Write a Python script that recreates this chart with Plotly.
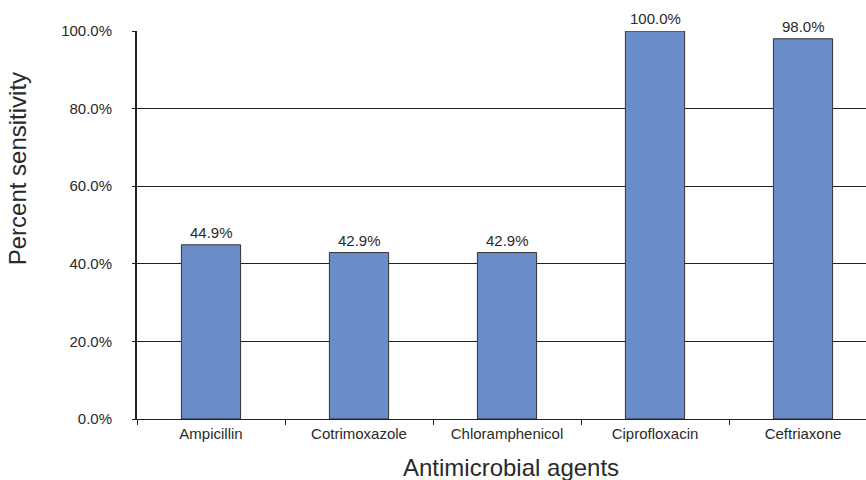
import plotly.graph_objects as go

categories = ["Ampicillin", "Cotrimoxazole", "Chloramphenicol", "Ciprofloxacin", "Ceftriaxone"]
sensitivity = [44.9, 42.9, 42.9, 100.0, 98.0]
y_ticks = [0, 20, 40, 60, 80, 100]
y_tick_labels = ["0.0%", "20.0%", "40.0%", "60.0%", "80.0%", "100.0%"]

font_family = "Liberation Sans, Arial, sans-serif"
ink = "#222222"
text_ink = "#2a2a2a"

fig = go.Figure()
fig.add_trace(go.Bar(
    x=categories, y=sensitivity, width=0.4,
    marker=dict(color="#6A8CC7", line=dict(color="#333333", width=1)),
    showlegend=False, hoverinfo="skip",
))

for c, v in zip(categories, sensitivity):
    fig.add_annotation(x=c, y=v, xref="x", yref="y", text=f"{v:.1f}%",
                       showarrow=False, yanchor="bottom", yshift=2,
                       bgcolor="white", borderpad=1,
                       font=dict(family=font_family, size=15, color=text_ink))

# axis titles as annotations (paper coords)
fig.add_annotation(x=0.5137, y=-0.126, xref="paper", yref="paper", text="Antimicrobial agents",
                   showarrow=False, xanchor="center", yanchor="middle",
                   font=dict(family=font_family, size=24, color=text_ink))
fig.add_annotation(x=-0.1635, y=0.6456, xref="paper", yref="paper", text="Percent sensitivity",
                   showarrow=False, xanchor="center", yanchor="middle", textangle=-90,
                   font=dict(family=font_family, size=24, color=text_ink))

fig.update_layout(
    width=866, height=480,
    margin=dict(l=137, r=0, t=31, b=61),
    paper_bgcolor="white", plot_bgcolor="white",
    font=dict(family=font_family, color=text_ink),
    xaxis=dict(
        type="category", range=[-0.5, 4.5 - 11 / 148],
        tickson="boundaries", ticks="outside", ticklen=5, tickcolor=ink,
        showline=True, linecolor=ink, linewidth=1,
        showgrid=False, tickfont=dict(size=15, color=text_ink),
        ticklabelstandoff=1,
    ),
    yaxis=dict(
        range=[0, 100], tickmode="array", tickvals=y_ticks, ticktext=y_tick_labels,
        ticks="outside", ticklen=3, tickcolor=ink,
        showline=True, linecolor=ink, linewidth=2,
        showgrid=True, gridcolor=ink, gridwidth=1,
        tickfont=dict(size=15, color=text_ink),
        ticklabelstandoff=17,
        zeroline=False,
    ),
)

fig.write_html(
    "out.html",
    config={"displayModeBar": False},
    post_script="document.body.style.margin='0';document.body.style.overflow='hidden';",
)
